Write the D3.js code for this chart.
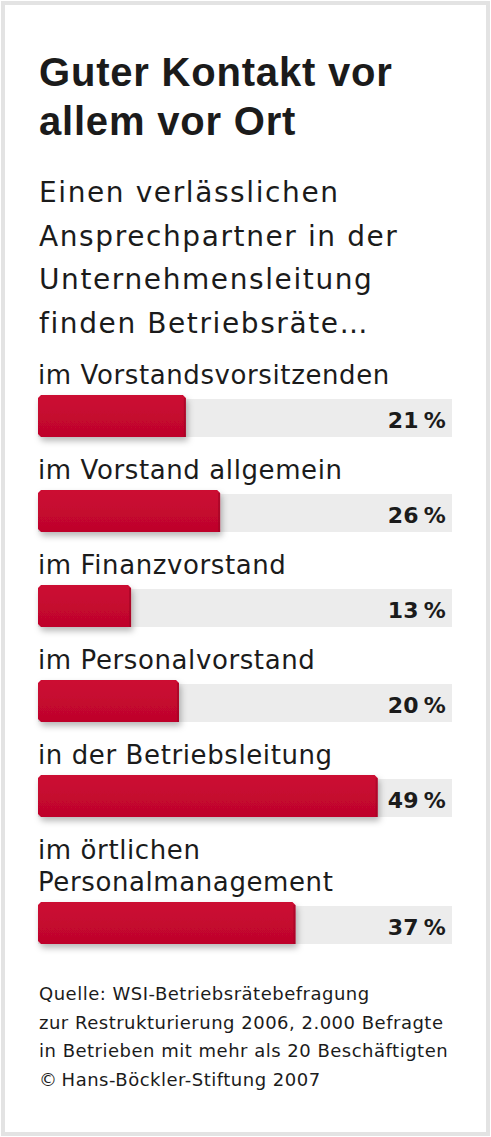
<!DOCTYPE html>
<html>
<head>
<meta charset="utf-8"/>
<title>Guter Kontakt vor allem vor Ort</title>
<style type="text/css">
    body, html {width:100%;height:100%;overflow:hidden;margin:0;background:#fff;font-family:"DejaVu Sans",sans-serif;}
    #chart {width:491px;height:1137px;}
    .title {font-family:"Liberation Sans",Arial,sans-serif;}
</style>
<script src="https://cdn.jsdelivr.net/npm/d3@7/dist/d3.min.js"></script>
</head>
<body>
<div id="chart"></div>
<script>
// Daten aus der Grafik
var titleLines = ["Guter Kontakt vor", "allem vor Ort"];
var subtitleLines = ["Einen verlässlichen", "Ansprechpartner in der", "Unternehmensleitung", "finden Betriebsräte…"];
var categories = [
    ["im Vorstandsvorsitzenden"],
    ["im Vorstand allgemein"],
    ["im Finanzvorstand"],
    ["im Personalvorstand"],
    ["in der Betriebsleitung"],
    ["im örtlichen", "Personalmanagement"]
];
var values = [21, 26, 13, 20, 49, 37];
var sourceLines = [
    "Quelle: WSI-Betriebsrätebefragung",
    "zur Restrukturierung 2006, 2.000 Befragte",
    "in Betrieben mit mehr als 20 Beschäftigten",
    "\u00a9\u2009Hans-Böckler-Stiftung 2007"
];

var W = 491, H = 1137;
var left = 38, right = 452;
var track = "#ececec", ink = "#1b1b1b";

var svg = d3.select("#chart").append("svg")
    .attr("width", W).attr("height", H);

var defs = svg.append("defs");
var f = defs.append("filter").attr("id", "shadow")
    .attr("x", "-5%").attr("y", "-20%").attr("width", "115%").attr("height", "160%");
f.append("feDropShadow").attr("dx", 2).attr("dy", 4)
    .attr("stdDeviation", 3).attr("flood-color", "#000").attr("flood-opacity", 0.28);

var grad = defs.append("linearGradient").attr("id", "redgrad")
    .attr("x1", 0).attr("y1", 0).attr("x2", 0).attr("y2", 1);
grad.append("stop").attr("offset", "0%").attr("stop-color", "#cc0a33");
grad.append("stop").attr("offset", "100%").attr("stop-color", "#be052b");

// Rahmen
svg.append("rect").attr("x", 3).attr("y", 3).attr("width", W - 6).attr("height", H - 6)
    .attr("fill", "#fff").attr("stroke", "#e3e3e3").attr("stroke-width", 4);

// Titel
svg.append("g").selectAll("text").data(titleLines).enter().append("text")
    .attr("class", "title")
    .attr("x", 39).attr("y", function (d, i) { return 86 + i * 49; })
    .attr("font-size", 40).attr("font-weight", "bold")
    .attr("letter-spacing", 0.8).attr("fill", ink)
    .text(function (d) { return d; });

svg.append("g").selectAll("text").data(subtitleLines).enter().append("text")
    .attr("x", 39).attr("y", function (d, i) { return 202 + i * 43.5; })
    .attr("font-size", 28).attr("letter-spacing", 1.6).attr("fill", ink)
    .text(function (d) { return d; });

// Skala
var x = d3.scaleLinear().domain([0, 60]).range([42, 453]);

var lineH = 32, barH = 42, gap = 11, pitch = 42;
var rows = [];
var base = 384;
categories.forEach(function (lines, i) {
    var barTop = base + (lines.length - 1) * lineH + gap;
    rows.push({lines: lines, value: values[i], labelY: base, barTop: barTop});
    base = barTop + barH + pitch;
});

var g = svg.append("g");
var row = g.selectAll("g.row").data(rows).enter().append("g").attr("class", "row");

row.append("text")
    .attr("x", left).attr("y", function (d) { return d.labelY; })
    .attr("font-size", 26).attr("letter-spacing", 0.6).attr("fill", ink)
    .selectAll("tspan").data(function (d) { return d.lines; }).enter().append("tspan")
    .attr("x", left).attr("dy", function (d, i) { return i ? lineH : 0; })
    .text(function (d) { return d; });

row.append("rect")
    .attr("x", left).attr("y", function (d) { return d.barTop + 4; })
    .attr("width", right - left).attr("height", barH - 4)
    .attr("fill", track);

row.append("path")
    .attr("d", function (d) {
        var x0 = left, x1 = x(d.value), y0 = d.barTop, y1 = d.barTop + barH, r = 3;
        return "M" + (x0 + r) + "," + y0 + "H" + (x1 - r) + "L" + x1 + "," + (y0 + r) +
            "V" + y1 + "H" + (x0 + r) + "L" + x0 + "," + (y1 - r) + "V" + (y0 + r) + "Z";
    })
    .attr("fill", "url(#redgrad)").attr("filter", "url(#shadow)");

row.append("rect")
    .attr("x", function (d) { return x(d.value) - 2; }).attr("y", function (d) { return d.barTop + 3; })
    .attr("width", 2).attr("height", barH - 3)
    .attr("fill", "#9c0524").attr("opacity", 0.6);

row.append("text")
    .attr("x", 446).attr("y", function (d) { return d.barTop + barH - 9; })
    .attr("text-anchor", "end").attr("font-size", 22).attr("font-weight", "bold")
    .attr("letter-spacing", 0.3).attr("fill", ink)
    .text(function (d) { return d.value + "\u2009%"; });

// Quelle
svg.append("g").selectAll("text").data(sourceLines).enter().append("text")
    .attr("x", 39).attr("y", function (d, i) { return 1000 + i * 28.5; })
    .attr("font-size", 18).attr("letter-spacing", 0.5).attr("fill", ink)
    .text(function (d) { return d; });
</script>
</body>
</html>
